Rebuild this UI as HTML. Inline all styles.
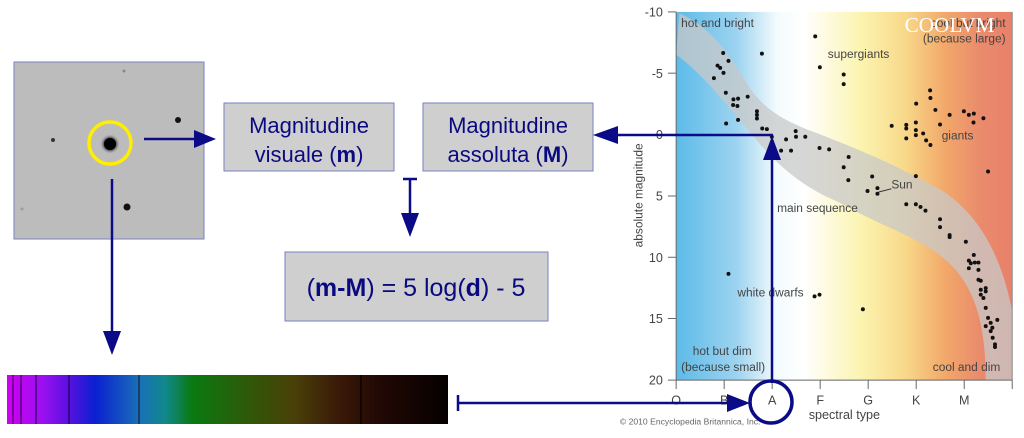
<!DOCTYPE html>
<html><head><meta charset="utf-8"><style>
html,body{margin:0;padding:0;background:#fff;}
svg{display:block;}
</style></head><body>
<svg width="1024" height="438" viewBox="0 0 1024 438" xmlns="http://www.w3.org/2000/svg" font-family="Liberation Sans, sans-serif">
<defs>
<linearGradient id="bg" x1="0" x2="1" y1="0" y2="0">
<stop offset="0" stop-color="#5cbbe8"/>
<stop offset="0.18" stop-color="#9dd3f0"/>
<stop offset="0.3" stop-color="#f4fbfd"/>
<stop offset="0.38" stop-color="#ffffff"/>
<stop offset="0.55" stop-color="#fbf4b0"/>
<stop offset="0.68" stop-color="#f8d98a"/>
<stop offset="0.8" stop-color="#f2a86a"/>
<stop offset="0.9" stop-color="#ea8c6c"/>
<stop offset="1" stop-color="#e8806a"/>
</linearGradient>
<linearGradient id="sp" x1="0" x2="1">
<stop offset="0" stop-color="#d000f0"/>
<stop offset="0.08" stop-color="#9a10f0"/>
<stop offset="0.14" stop-color="#5a10e0"/>
<stop offset="0.2" stop-color="#0a20d0"/>
<stop offset="0.3" stop-color="#1a70b8"/>
<stop offset="0.36" stop-color="#10888a"/>
<stop offset="0.42" stop-color="#0a7a10"/>
<stop offset="0.55" stop-color="#305808"/>
<stop offset="0.65" stop-color="#4a4008"/>
<stop offset="0.75" stop-color="#3a1a08"/>
<stop offset="0.85" stop-color="#200804"/>
<stop offset="1" stop-color="#050000"/>
</linearGradient>
<radialGradient id="glow"><stop offset="0" stop-color="#000"/><stop offset="0.5" stop-color="#111"/><stop offset="1" stop-color="#b0b0b0" stop-opacity="0"/></radialGradient>
</defs>

<!-- star field image -->
<rect x="14" y="62" width="190" height="177" fill="#bcbcbc" stroke="#7a80c0" stroke-width="1"/>
<circle cx="110" cy="144" r="10" fill="url(#glow)"/>
<circle cx="110" cy="144" r="6" fill="#000"/>
<circle cx="110" cy="143" r="21" fill="none" stroke="#ffee00" stroke-width="3.5"/>
<circle cx="178" cy="120" r="3" fill="#111"/>
<circle cx="53" cy="140" r="2" fill="#333"/>
<circle cx="127" cy="207" r="3.5" fill="#111"/>
<circle cx="124" cy="71" r="1.5" fill="#888"/>
<circle cx="22" cy="209" r="1.5" fill="#999"/>

<!-- boxes -->
<rect x="224" y="103" width="170" height="68" fill="#cfcfcf" stroke="#7a80c0"/>
<text x="309" y="133" font-size="22" fill="#0a0a80" text-anchor="middle">Magnitudine</text>
<text x="309" y="162" font-size="22" fill="#0a0a80" text-anchor="middle">visuale (<tspan font-weight="bold">m</tspan>)</text>
<rect x="423" y="103" width="170" height="68" fill="#cfcfcf" stroke="#7a80c0"/>
<text x="508" y="133" font-size="22" fill="#0a0a80" text-anchor="middle">Magnitudine</text>
<text x="508" y="162" font-size="22" fill="#0a0a80" text-anchor="middle">assoluta (<tspan font-weight="bold">M</tspan>)</text>
<rect x="285" y="252" width="263" height="69" fill="#cfcfcf" stroke="#7a80c0"/>
<text x="416" y="296" font-size="25" fill="#0a0a80" text-anchor="middle">(<tspan font-weight="bold">m-M</tspan>) = 5 log(<tspan font-weight="bold">d</tspan>) - 5</text>

<!-- spectrum -->
<rect x="7" y="375" width="441" height="49" fill="url(#sp)"/>
<g stroke-width="1.2">
<line x1="13" y1="375" x2="13" y2="424" stroke="#400060"/>
<line x1="21" y1="375" x2="21" y2="424" stroke="#400060"/>
<line x1="36" y1="375" x2="36" y2="424" stroke="#300060"/>
<line x1="69" y1="375" x2="69" y2="424" stroke="#200050"/>
<line x1="139" y1="375" x2="139" y2="424" stroke="#102030"/>
<line x1="361" y1="375" x2="361" y2="424" stroke="#000"/>
</g>

<!-- HR diagram -->
<g transform="translate(600,0) scale(0.3311)">
<rect x="230" y="36" width="1015" height="1112" fill="url(#bg)"/>
<path d="M240,40 C330,80 380,150 430,230 C480,320 540,360 650,400 C780,450 900,500 1040,580 C1140,650 1210,760 1245,940 L1245,1148 L1165,1148 C1165,1000 1140,880 1060,800 C980,720 860,690 720,610 C600,560 530,490 470,420 C400,340 320,230 230,165 Z" fill="#c8c8c8" opacity="0.75"/>
<g fill="#111">
<circle cx="372" cy="160" r="6"/><circle cx="388" cy="184" r="6"/><circle cx="355" cy="198" r="6"/><circle cx="363" cy="205" r="6"/><circle cx="373" cy="220" r="6"/><circle cx="344" cy="236" r="6"/><circle cx="380" cy="280" r="6"/><circle cx="403" cy="300" r="6"/><circle cx="417" cy="298" r="6"/><circle cx="402" cy="317" r="6"/><circle cx="415" cy="320" r="6"/><circle cx="417" cy="362" r="6"/><circle cx="446" cy="292" r="6"/><circle cx="381" cy="373" r="6"/><circle cx="474" cy="336" r="6"/><circle cx="474" cy="347" r="6"/><circle cx="474" cy="358" r="6"/><circle cx="490" cy="388" r="6"/><circle cx="504" cy="390" r="6"/><circle cx="489" cy="162" r="6"/><circle cx="519" cy="413" r="6"/><circle cx="547" cy="455" r="6"/><circle cx="562" cy="421" r="6"/><circle cx="577" cy="455" r="6"/><circle cx="591" cy="396" r="6"/><circle cx="592" cy="413" r="6"/><circle cx="620" cy="413" r="6"/><circle cx="663" cy="447" r="6"/><circle cx="692" cy="451" r="6"/><circle cx="650" cy="110" r="6"/><circle cx="664" cy="203" r="6"/><circle cx="736" cy="225" r="6"/><circle cx="736" cy="254" r="6"/><circle cx="736" cy="505" r="6"/><circle cx="751" cy="474" r="6"/><circle cx="750" cy="544" r="6"/><circle cx="808" cy="577" r="6"/><circle cx="822" cy="533" r="6"/><circle cx="838" cy="568" r="6"/><circle cx="838" cy="585" r="6"/><circle cx="881" cy="380" r="6"/><circle cx="925" cy="377" r="6"/><circle cx="925" cy="388" r="6"/><circle cx="925" cy="418" r="6"/><circle cx="954" cy="370" r="6"/><circle cx="954" cy="393" r="6"/><circle cx="954" cy="408" r="6"/><circle cx="976" cy="403" r="6"/><circle cx="985" cy="424" r="6"/><circle cx="998" cy="438" r="6"/><circle cx="955" cy="313" r="6"/><circle cx="997" cy="273" r="6"/><circle cx="998" cy="296" r="6"/><circle cx="1013" cy="332" r="6"/><circle cx="1027" cy="376" r="6"/><circle cx="1056" cy="347" r="6"/><circle cx="1099" cy="336" r="6"/><circle cx="1114" cy="347" r="6"/><circle cx="1129" cy="343" r="6"/><circle cx="1128" cy="370" r="6"/><circle cx="1158" cy="357" r="6"/><circle cx="1172" cy="518" r="6"/><circle cx="925" cy="617" r="6"/><circle cx="954" cy="617" r="6"/><circle cx="968" cy="625" r="6"/><circle cx="983" cy="636" r="6"/><circle cx="954" cy="532" r="6"/><circle cx="1027" cy="662" r="6"/><circle cx="1027" cy="686" r="6"/><circle cx="1056" cy="710" r="6"/><circle cx="1056" cy="716" r="6"/><circle cx="1105" cy="730" r="6"/><circle cx="1129" cy="770" r="6"/><circle cx="1114" cy="787" r="6"/><circle cx="1114" cy="810" r="6"/><circle cx="1120" cy="795" r="6"/><circle cx="1132" cy="793" r="6"/><circle cx="1143" cy="793" r="6"/><circle cx="1143" cy="815" r="6"/><circle cx="1143" cy="845" r="6"/><circle cx="1150" cy="848" r="6"/><circle cx="1165" cy="870" r="6"/><circle cx="1150" cy="875" r="6"/><circle cx="1150" cy="890" r="6"/><circle cx="1158" cy="900" r="6"/><circle cx="1165" cy="880" r="6"/><circle cx="1165" cy="930" r="6"/><circle cx="1172" cy="960" r="6"/><circle cx="1180" cy="975" r="6"/><circle cx="1185" cy="990" r="6"/><circle cx="1165" cy="985" r="6"/><circle cx="1180" cy="1000" r="6"/><circle cx="1186" cy="1020" r="6"/><circle cx="1193" cy="1040" r="6"/><circle cx="1193" cy="1048" r="6"/><circle cx="1200" cy="966" r="6"/><circle cx="388" cy="827" r="6"/><circle cx="648" cy="895" r="6"/><circle cx="663" cy="890" r="6"/><circle cx="794" cy="934" r="6"/>
</g>
<line x1="880" y1="570" x2="842" y2="580" stroke="#333" stroke-width="3"/>
<g fill="#444" font-size="36">
<text x="245" y="82">hot and bright</text>
<text x="1225" y="82" text-anchor="end">cool but bright</text>
<text x="1225" y="128" text-anchor="end">(because large)</text>
<text x="688" y="175">supergiants</text>
<text x="1032" y="422">giants</text>
<text x="880" y="570">Sun</text>
<text x="535" y="640">main sequence</text>
<text x="415" y="895">white dwarfs</text>
<text x="280" y="1072">hot but dim</text>
<text x="245" y="1120">(because small)</text>
<text x="1005" y="1120">cool and dim</text>
</g>
<text x="920" y="97" font-size="64" fill="#fff" font-family="Liberation Serif, serif">COOLVM</text>
<g stroke="#666" stroke-width="3">
<line x1="230" y1="36" x2="230" y2="1148"/>
<line x1="230" y1="1148" x2="1245" y2="1148"/>
<line x1="1245" y1="36" x2="1245" y2="1148" stroke="#888"/>
<line x1="205" y1="36" x2="230" y2="36"/><line x1="205" y1="221" x2="230" y2="221"/><line x1="205" y1="406" x2="230" y2="406"/><line x1="205" y1="592" x2="230" y2="592"/><line x1="205" y1="777" x2="230" y2="777"/><line x1="205" y1="962" x2="230" y2="962"/><line x1="205" y1="1148" x2="230" y2="1148"/>
<line x1="230" y1="1148" x2="230" y2="1175"/><line x1="375" y1="1148" x2="375" y2="1175"/><line x1="520" y1="1148" x2="520" y2="1175"/><line x1="665" y1="1148" x2="665" y2="1175"/><line x1="810" y1="1148" x2="810" y2="1175"/><line x1="955" y1="1148" x2="955" y2="1175"/><line x1="1100" y1="1148" x2="1100" y2="1175"/><line x1="1245" y1="1148" x2="1245" y2="1175"/>
</g>
<g fill="#444" font-size="38" text-anchor="end">
<text x="190" y="50">-10</text><text x="190" y="235">-5</text><text x="190" y="420">0</text><text x="190" y="606">5</text><text x="190" y="791">10</text><text x="190" y="976">15</text><text x="190" y="1162">20</text>
</g>
<g fill="#444" font-size="38" text-anchor="middle">
<text x="230" y="1222">O</text><text x="375" y="1222">B</text><text x="520" y="1222">A</text><text x="665" y="1222">F</text><text x="810" y="1222">G</text><text x="955" y="1222">K</text><text x="1100" y="1222">M</text>
<text x="738" y="1265">spectral type</text>
</g>
<text transform="translate(128,590) rotate(-90)" fill="#444" font-size="36" text-anchor="middle">absolute magnitude</text>
<text x="60" y="1282" fill="#666" font-size="26">© 2010 Encyclopedia Britannica, Inc.</text>
</g>

<!-- arrows -->
<g stroke="#0b0b87" stroke-width="2.5" fill="none">
<line x1="144" y1="139" x2="196" y2="139"/>
<line x1="112" y1="179" x2="112" y2="333"/>
<line x1="410" y1="179" x2="410" y2="215"/>
<line x1="403" y1="179" x2="417" y2="179"/>
<line x1="772" y1="383" x2="772" y2="158"/>
<line x1="773" y1="135" x2="616" y2="135"/>
<line x1="458" y1="403" x2="730" y2="403"/>
<line x1="458" y1="395" x2="458" y2="411"/>
<circle cx="771" cy="402" r="21" stroke-width="3.5"/>
</g>
<g fill="#0b0b87">
<polygon points="216,139 194,130 194,148"/>
<polygon points="112,355 103,331 121,331"/>
<polygon points="410,237 401,213 419,213"/>
<polygon points="772,136 763,160 781,160"/>
<polygon points="593,135 618,126 618,144"/>
<polygon points="750,403 727,394 727,412"/>
</g>
</svg>
</body></html>
